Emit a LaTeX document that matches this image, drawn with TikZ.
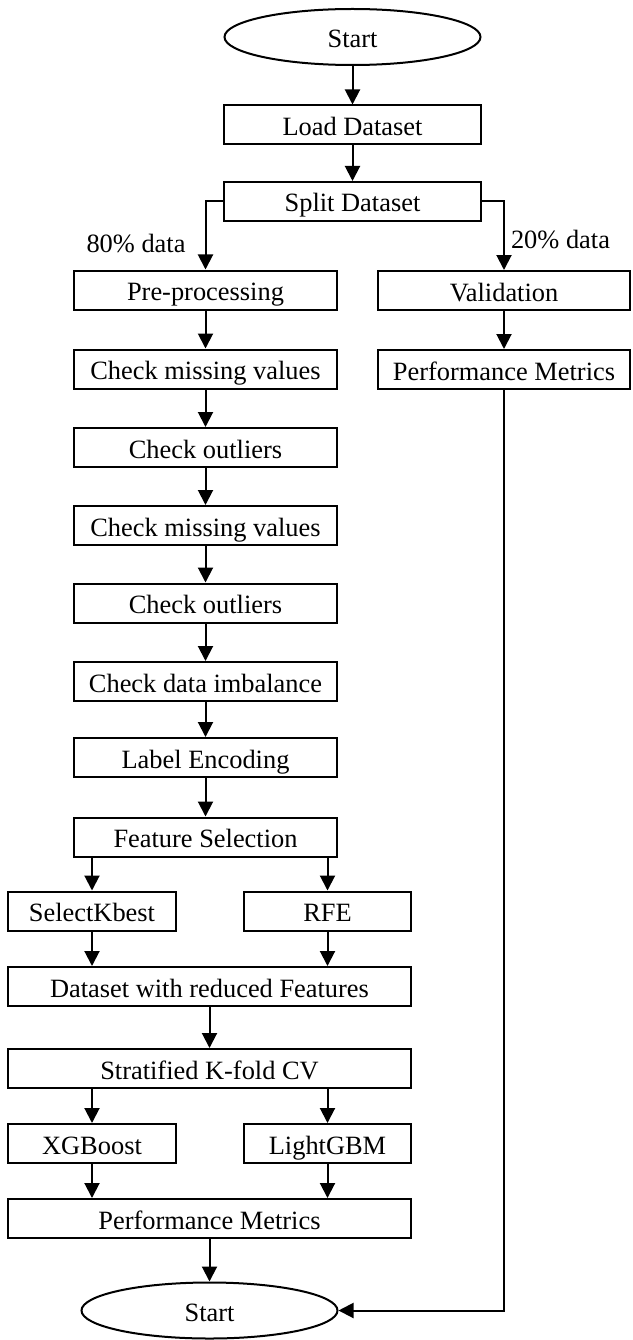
\documentclass[tikz,border=0pt]{standalone}
\usepackage{fontspec}
\setmainfont{Liberation Serif}
\usetikzlibrary{arrows.meta,shapes.geometric}
\begin{document}
\begin{tikzpicture}[x=1pt,y=-1pt,
  every node/.style={font=\fontsize{26.4}{30}\selectfont, inner sep=0pt},
  box/.style={draw, line width=2pt, rectangle, minimum height=39pt, text height=21pt, text depth=0pt},
  oval/.style={draw, line width=2pt, ellipse, minimum width=256pt, minimum height=56pt, text height=21pt, text depth=0pt},
  arr/.style={line width=2pt, -{Triangle[width=15pt,length=15pt]}},
  lbl/.style={anchor=base}
]
\useasboundingbox (0,0) rectangle (632,1340);
\fill[white] (0,0) rectangle (632,1340);

\node[oval] (start) at (352.5,37) {Start};
\node[box,minimum width=257pt] (load) at (352.5,125) {Load Dataset};
\node[box,minimum width=257pt] (split) at (352.5,201.5) {Split Dataset};
\node[box,minimum width=263pt] (pre) at (205.5,290) {Pre-processing};
\node[box,minimum width=263pt] (cmv1) at (205.5,369) {Check missing values};
\node[box,minimum width=263pt] (co1) at (205.5,447.5) {Check outliers};
\node[box,minimum width=263pt] (cmv2) at (205.5,525.5) {Check missing values};
\node[box,minimum width=263pt] (co2) at (205.5,603) {Check outliers};
\node[box,minimum width=263pt] (cdi) at (205.5,681.5) {Check data imbalance};
\node[box,minimum width=263pt] (le) at (205.5,757.5) {Label Encoding};
\node[box,minimum width=263pt] (fs) at (205.5,837) {Feature Selection};
\node[box,minimum width=168pt] (skb) at (92,911) {SelectKbest};
\node[box,minimum width=167pt] (rfe) at (327.5,911) {RFE};
\node[box,minimum width=403pt] (drf) at (209.5,986.5) {Dataset with reduced Features};
\node[box,minimum width=403pt] (skf) at (209.5,1068.5) {Stratified K-fold CV};
\node[box,minimum width=168pt] (xgb) at (92,1143.5) {XGBoost};
\node[box,minimum width=167pt] (lgbm) at (327.5,1143.5) {LightGBM};
\node[box,minimum width=403pt] (pm) at (209.5,1218.5) {Performance Metrics};
\node[oval] (end) at (209.5,1310.5) {Start};
\node[box,minimum width=252pt] (val) at (504,290.5) {Validation};
\node[box,minimum width=252pt] (pmr) at (504,369.5) {Performance Metrics};

\node[lbl] (l80) at (136,252) {80\% data};
\node[lbl] (l20) at (560.5,248) {20\% data};

\draw[arr] (start) -- (load);
\draw[arr] (load) -- (split);
\draw[arr] (split.west) -| (pre.north);
\draw[arr] (split.east) -| (val.north);
\draw[arr] (pre) -- (cmv1);
\draw[arr] (cmv1) -- (co1);
\draw[arr] (co1) -- (cmv2);
\draw[arr] (cmv2) -- (co2);
\draw[arr] (co2) -- (cdi);
\draw[arr] (cdi) -- (le);
\draw[arr] (le) -- (fs);
\draw[arr] (fs.south -| skb.north) -- (skb.north);
\draw[arr] (fs.south -| rfe.north) -- (rfe.north);
\draw[arr] (skb.south) -- (skb.south |- drf.north);
\draw[arr] (rfe.south) -- (rfe.south |- drf.north);
\draw[arr] (drf) -- (skf);
\draw[arr] (skf.south -| xgb.north) -- (xgb.north);
\draw[arr] (skf.south -| lgbm.north) -- (lgbm.north);
\draw[arr] (xgb.south) -- (xgb.south |- pm.north);
\draw[arr] (lgbm.south) -- (lgbm.south |- pm.north);
\draw[arr] (pm) -- (end);
\draw[arr] (val) -- (pmr);
\draw[arr] (pmr.south) |- (end.east);
\end{tikzpicture}
\end{document}
